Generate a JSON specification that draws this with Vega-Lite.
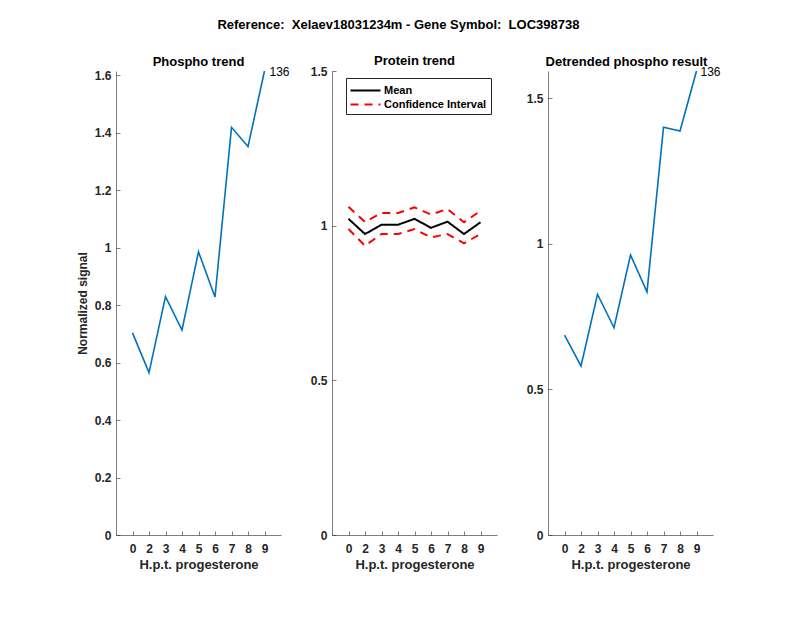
{
  "$schema": "https://vega.github.io/schema/vega-lite/v6.json",
  "background": "white",
  "padding": {"left": 76, "top": 19, "right": 5, "bottom": 5},
  "title": {"text": "Reference:\u00a0\u00a0Xelaev18031234m - Gene Symbol:\u00a0\u00a0LOC398738", "font": "Liberation Sans", "fontSize": 13, "fontWeight": "bold", "color": "#000000", "anchor": "middle", "offset": 23},
  "datasets": {
    "main": [
      {"t": "0", "phospho": 0.703, "detrended": 0.687, "label": ""},
      {"t": "2", "phospho": 0.565, "detrended": 0.581, "label": ""},
      {"t": "3", "phospho": 0.829, "detrended": 0.827, "label": ""},
      {"t": "4", "phospho": 0.713, "detrended": 0.712, "label": ""},
      {"t": "5", "phospho": 0.985, "detrended": 0.962, "label": ""},
      {"t": "6", "phospho": 0.828, "detrended": 0.835, "label": ""},
      {"t": "7", "phospho": 1.418, "detrended": 1.401, "label": ""},
      {"t": "8", "phospho": 1.351, "detrended": 1.388, "label": ""},
      {"t": "9", "phospho": 1.614, "detrended": 1.594, "label": "136"}
    ],
    "protein": [
      {"t": "0", "series": "Mean", "band": "mean", "v": 1.022},
      {"t": "2", "series": "Mean", "band": "mean", "v": 0.973},
      {"t": "3", "series": "Mean", "band": "mean", "v": 1.003},
      {"t": "4", "series": "Mean", "band": "mean", "v": 1.003},
      {"t": "5", "series": "Mean", "band": "mean", "v": 1.022},
      {"t": "6", "series": "Mean", "band": "mean", "v": 0.993},
      {"t": "7", "series": "Mean", "band": "mean", "v": 1.013},
      {"t": "8", "series": "Mean", "band": "mean", "v": 0.973},
      {"t": "9", "series": "Mean", "band": "mean", "v": 1.011},
      {"t": "0", "series": "Confidence Interval", "band": "upper", "v": 1.061},
      {"t": "2", "series": "Confidence Interval", "band": "upper", "v": 1.012},
      {"t": "3", "series": "Confidence Interval", "band": "upper", "v": 1.041},
      {"t": "4", "series": "Confidence Interval", "band": "upper", "v": 1.041},
      {"t": "5", "series": "Confidence Interval", "band": "upper", "v": 1.059},
      {"t": "6", "series": "Confidence Interval", "band": "upper", "v": 1.036},
      {"t": "7", "series": "Confidence Interval", "band": "upper", "v": 1.054},
      {"t": "8", "series": "Confidence Interval", "band": "upper", "v": 1.011},
      {"t": "9", "series": "Confidence Interval", "band": "upper", "v": 1.048},
      {"t": "0", "series": "Confidence Interval", "band": "lower", "v": 0.989},
      {"t": "2", "series": "Confidence Interval", "band": "lower", "v": 0.935},
      {"t": "3", "series": "Confidence Interval", "band": "lower", "v": 0.973},
      {"t": "4", "series": "Confidence Interval", "band": "lower", "v": 0.973},
      {"t": "5", "series": "Confidence Interval", "band": "lower", "v": 0.989},
      {"t": "6", "series": "Confidence Interval", "band": "lower", "v": 0.962},
      {"t": "7", "series": "Confidence Interval", "band": "lower", "v": 0.973},
      {"t": "8", "series": "Confidence Interval", "band": "lower", "v": 0.943},
      {"t": "9", "series": "Confidence Interval", "band": "lower", "v": 0.973}
    ]
  },
  "config": {
    "font": "Liberation Sans",
    "view": {"stroke": null},
    "axis": {
      "grid": false,
      "domainColor": "#262626",
      "domainWidth": 0.6,
      "tickColor": "#262626",
      "tickWidth": 0.6,
      "tickSize": -4,
      "labelFont": "Liberation Sans",
      "labelFontSize": 12,
      "labelFontWeight": "bold",
      "labelColor": "#262626",
      "titleFont": "Liberation Sans",
      "titleFontSize": 13,
      "titleFontWeight": "bold",
      "titleColor": "#262626"
    },
    "title": {"font": "Liberation Sans", "fontSize": 13, "fontWeight": "bold", "color": "#000000", "offset": -3, "anchor": "middle"}
  },
  "bounds": "flush",
  "spacing": 51,
  "hconcat": [
    {
      "width": 165,
      "height": 464,
      "title": "Phospho trend",
      "data": {"name": "main"},
      "layer": [
        {
          "mark": {"type": "line", "color": "#0072BD", "strokeWidth": 1.6},
          "encoding": {
            "x": {"field": "t", "type": "ordinal", "sort": null, "scale": {"type": "point", "padding": 1}, "axis": {"labelAngle": 0, "title": "H.p.t. progesterone", "labelPadding": 12, "titlePadding": 4}},
            "y": {"field": "phospho", "type": "quantitative", "scale": {"domain": [0, 1.614], "nice": false}, "axis": {"values": [0, 0.2, 0.4, 0.6, 0.8, 1, 1.2, 1.4, 1.6], "format": "~g", "title": "Normalized signal", "titleFontSize": 12, "labelPadding": 9, "titlePadding": 5}}
          }
        },
        {
          "transform": [{"filter": "datum.label != ''"}],
          "mark": {"type": "text", "align": "left", "baseline": "middle", "dx": 5, "dy": 1, "font": "Liberation Sans", "fontSize": 12, "color": "#000000"},
          "encoding": {
            "x": {"field": "t", "type": "ordinal", "sort": null},
            "y": {"field": "phospho", "type": "quantitative"},
            "text": {"field": "label"}
          }
        }
      ]
    },
    {
      "width": 165,
      "height": 464,
      "title": "Protein trend",
      "data": {"name": "protein"},
      "mark": {"type": "line", "strokeWidth": 2},
      "encoding": {
        "x": {"field": "t", "type": "ordinal", "sort": null, "scale": {"type": "point", "padding": 1}, "axis": {"labelAngle": 0, "title": "H.p.t. progesterone", "labelPadding": 12, "titlePadding": 4}},
        "y": {"field": "v", "type": "quantitative", "scale": {"domain": [0, 1.5], "nice": false}, "axis": {"values": [0, 0.5, 1, 1.5], "format": "~g", "title": null, "labelPadding": 9}},
        "color": {"field": "series", "type": "nominal", "scale": {"domain": ["Mean", "Confidence Interval"], "range": ["#000000", "#FF0000"]}, "legend": {"title": null, "orient": "none", "legendX": 230, "legendY": 7, "direction": "vertical", "strokeColor": "#262626", "fillColor": "white", "padding": 4, "symbolType": "M-2,0H2", "symbolSize": 225, "symbolStrokeWidth": 2, "symbolOffset": 7, "labelFont": "Liberation Sans", "labelFontSize": 11, "labelFontWeight": "bold", "labelColor": "#000000", "rowPadding": 0, "labelOffset": 10}},
        "strokeDash": {"field": "series", "type": "nominal", "scale": {"domain": ["Mean", "Confidence Interval"], "range": [[1, 0], [8, 6]]}, "legend": null},
        "detail": {"field": "band"}
      }
    },
    {
      "width": 165,
      "height": 464,
      "title": {"text": "Detrended phospho result", "dx": -4},
      "data": {"name": "main"},
      "layer": [
        {
          "mark": {"type": "line", "color": "#0072BD", "strokeWidth": 1.6},
          "encoding": {
            "x": {"field": "t", "type": "ordinal", "sort": null, "scale": {"type": "point", "padding": 1}, "axis": {"labelAngle": 0, "title": "H.p.t. progesterone", "labelPadding": 12, "titlePadding": 4}},
            "y": {"field": "detrended", "type": "quantitative", "scale": {"domain": [0, 1.594], "nice": false}, "axis": {"values": [0, 0.5, 1, 1.5], "format": "~g", "title": null, "labelPadding": 9}}
          }
        },
        {
          "transform": [{"filter": "datum.label != ''"}],
          "mark": {"type": "text", "align": "left", "baseline": "middle", "dx": 4, "dy": 1, "font": "Liberation Sans", "fontSize": 12, "color": "#000000"},
          "encoding": {
            "x": {"field": "t", "type": "ordinal", "sort": null},
            "y": {"field": "detrended", "type": "quantitative"},
            "text": {"field": "label"}
          }
        }
      ]
    }
  ]
}
